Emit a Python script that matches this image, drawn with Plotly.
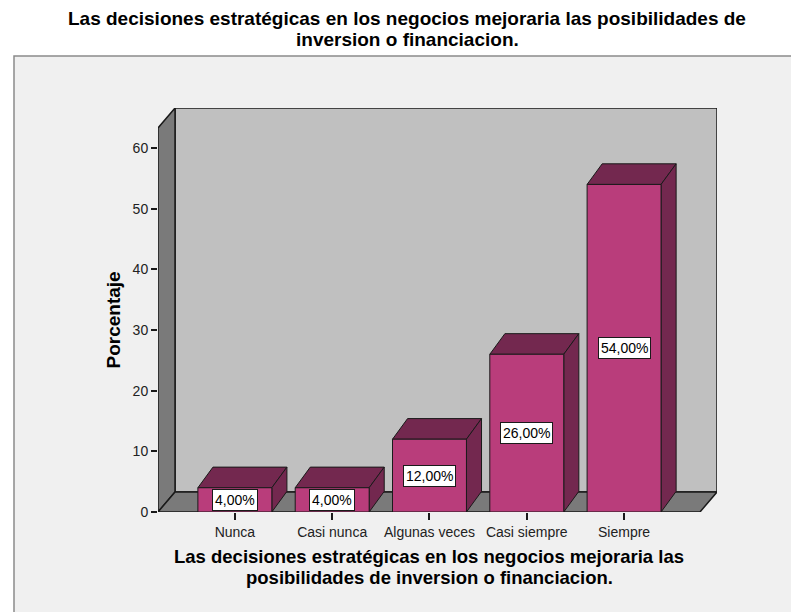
import plotly.graph_objects as go

# ---- data ----
categories = ["Nunca", "Casi nunca", "Algunas veces", "Casi siempre", "Siempre"]
percentages = [4.0, 4.0, 12.0, 26.0, 54.0]
y_ticks = [0, 10, 20, 30, 40, 50, 60]
chart_title = ["Las decisiones estratégicas en los negocios mejoraria las posibilidades de",
               "inversion o financiacion."]
x_title = ["Las decisiones estratégicas en los negocios mejoraria las",
           "posibilidades de inversion o financiacion."]
y_title = "Porcentaje"

# ---- geometry (in axis units) ----
W, H = 791, 612
ML, MR, MT, MB = 158, 74, 108, 100
plot_w = W - ML - MR
plot_h = H - MT - MB
x_min = -0.79
x_front_max = 4.78
wall_dx = 0.175
wall_dy = 3.3
y_front_max = 63.3
x_max = x_front_max + wall_dx
y_max = y_front_max + wall_dy
bar_w = 0.76
bar_dx = 0.155
bar_dy = 3.4

FRONT = "#B93D7B"
DARK = "#73284F"
EDGE = "#1a1a1a"
WALL_BACK = "#C0C0C0"
WALL_SIDE = "#7A7A7A"
PANEL = "#F0F0F0"
FONT = "Liberation Sans, Arial, sans-serif"


def poly(pts):
    return "M " + " L ".join(f"{x},{y}" for x, y in pts) + " Z"


def px_to_paper_x(px):
    return (px - ML) / plot_w


def px_to_paper_y(py):
    return (H - MB - py) / plot_h


shapes = []
# panel background (paper)
shapes.append(dict(type="rect", xref="paper", yref="paper", layer="below",
                   x0=px_to_paper_x(14), x1=px_to_paper_x(800),
                   y0=px_to_paper_y(640), y1=px_to_paper_y(56),
                   fillcolor=PANEL, line=dict(color="#8a8a8a", width=1.5)))

# back wall
shapes.append(dict(type="path", xref="x", yref="y", layer="below",
                   path=poly([(x_min + wall_dx, wall_dy), (x_max, wall_dy),
                              (x_max, y_max), (x_min + wall_dx, y_max)]),
                   fillcolor=WALL_BACK, line=dict(color=EDGE, width=1.5)))
# left wall
shapes.append(dict(type="path", xref="x", yref="y", layer="below",
                   path=poly([(x_min, 0), (x_min, y_front_max),
                              (x_min + wall_dx, y_max), (x_min + wall_dx, wall_dy)]),
                   fillcolor=WALL_SIDE, line=dict(color=EDGE, width=1.5)))
# floor
shapes.append(dict(type="path", xref="x", yref="y", layer="below",
                   path=poly([(x_min, 0), (x_front_max, 0),
                              (x_max, wall_dy), (x_min + wall_dx, wall_dy)]),
                   fillcolor=WALL_SIDE, line=dict(color=EDGE, width=1.5)))

# bar tops and sides
for i, v in enumerate(percentages):
    xl = i - bar_w / 2
    xr = i + bar_w / 2
    shapes.append(dict(type="path", xref="x", yref="y", layer="below",
                       path=poly([(xl, v), (xr, v), (xr + bar_dx, v + bar_dy), (xl + bar_dx, v + bar_dy)]),
                       fillcolor=DARK, line=dict(color=EDGE, width=1)))
    shapes.append(dict(type="path", xref="x", yref="y", layer="below",
                       path=poly([(xr, 0), (xr, v), (xr + bar_dx, v + bar_dy), (xr + bar_dx, bar_dy)]),
                       fillcolor=DARK, line=dict(color=EDGE, width=1)))

fig = go.Figure()
fig.add_trace(go.Bar(x=list(range(len(categories))), y=percentages, width=bar_w,
                     marker=dict(color=FRONT, line=dict(color=EDGE, width=1)),
                     hoverinfo="skip", showlegend=False))

annotations = []
for i, v in enumerate(percentages):
    label = f"{v:.2f}".replace(".", ",") + "%"
    annotations.append(dict(x=i, y=v / 2, xref="x", yref="y", text=label, showarrow=False,
                            font=dict(family=FONT, size=14, color="black"),
                            bgcolor="white", bordercolor=EDGE, borderwidth=1, borderpad=2))

# chart title (two lines)
for line, py in zip(chart_title, [18, 39]):
    annotations.append(dict(x=px_to_paper_x(407), y=px_to_paper_y(py), xref="paper", yref="paper",
                            text=f"<b>{line}</b>", showarrow=False, xanchor="center", yanchor="middle",
                            font=dict(family=FONT, size=19, color="black")))
# x axis title (two lines)
for line, py in zip(x_title, [556.5, 577.5]):
    annotations.append(dict(x=px_to_paper_x(429), y=px_to_paper_y(py), xref="paper", yref="paper",
                            text=f"<b>{line}</b>", showarrow=False, xanchor="center", yanchor="middle",
                            font=dict(family=FONT, size=18.5, color="black")))
# y axis title
annotations.append(dict(x=px_to_paper_x(112.5), y=px_to_paper_y(320), xref="paper", yref="paper",
                        text=f"<b>{y_title}</b>", showarrow=False, textangle=-90,
                        xanchor="center", yanchor="middle",
                        font=dict(family=FONT, size=19, color="black")))

fig.update_layout(
    width=W, height=H,
    margin=dict(l=ML, r=MR, t=MT, b=MB, pad=0),
    paper_bgcolor="white", plot_bgcolor=PANEL,
    shapes=shapes, annotations=annotations,
    font=dict(family=FONT, size=14, color="#222"),
    showlegend=False,
    xaxis=dict(range=[x_min, x_max], tickmode="array", tickvals=list(range(len(categories))),
               ticktext=categories, ticks="outside", ticklen=7, tickwidth=1.5, tickcolor=EDGE,
               showgrid=False, zeroline=False, showline=False, fixedrange=True,
               tickfont=dict(family=FONT, size=14, color="#222")),
    yaxis=dict(range=[0, y_max], tickmode="array", tickvals=y_ticks,
               ticks="outside", ticklen=6, tickwidth=1.5, tickcolor=EDGE,
               showgrid=False, zeroline=False, showline=False, fixedrange=True,
               tickfont=dict(family=FONT, size=14, color="#222")),
)

fig.write_html("out.html", config={"displayModeBar": False},
               post_script="document.body.style.margin='0';")
